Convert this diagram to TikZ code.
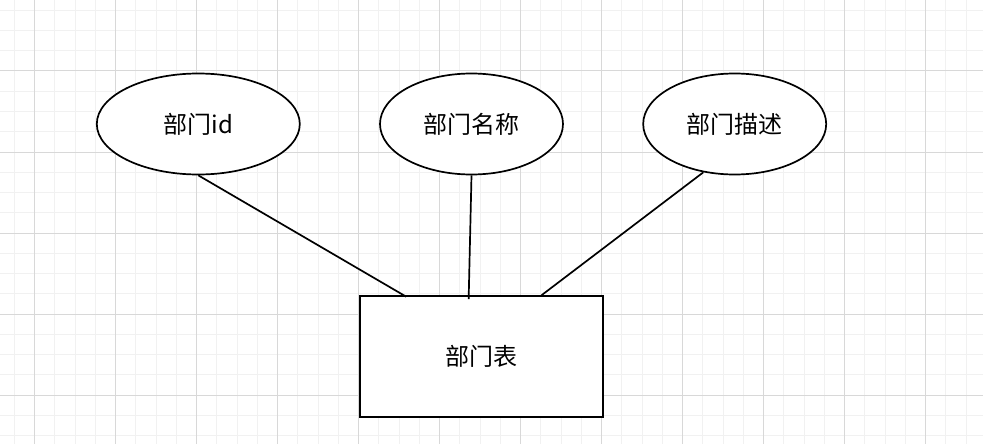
\documentclass[tikz,border=0pt]{standalone}
\usepackage{fontspec}
\setmainfont{Noto Sans CJK SC}
\usetikzlibrary{shapes.geometric}
\definecolor{gridminor}{RGB}{241,241,241}
\definecolor{gridmajor}{RGB}{216,216,216}
\tikzset{
  minorline/.style={draw=gridminor, line width=1pt},
  majorline/.style={draw=gridmajor, line width=1pt},
  attr/.style={ellipse, draw=black, line width=1.7pt, fill=white, inner sep=0pt,
    font=\fontsize{24}{28}\selectfont},
  entity/.style={rectangle, draw=black, line width=1.7pt, fill=white, inner sep=0pt,
    font=\fontsize{24}{28}\selectfont},
  link/.style={draw=black, line width=1.7pt}
}
\begin{document}
\begin{tikzpicture}[x=1pt,y=-1pt]
\useasboundingbox (0,0) rectangle (983,444);
\fill[white] (0,0) rectangle (983,444);
% grid
\foreach \i in {0,...,47} \draw[minorline] ({14.45+20.25*\i},0) -- ++(0,444);
\foreach \j in {0,...,21} \draw[minorline] (0,{10.25+20.25*\j}) -- ++(983,0);
\foreach \k in {0,...,11} \draw[majorline] ({34.7+81*\k},0) -- ++(0,444);
\foreach \k in {0,...,4} \draw[majorline] (0,{71+81*\k}) -- ++(983,0);
% nodes
\node[entity, minimum width=243pt, minimum height=121pt] (t) at (481.5,356.5) {部门表};
\node[attr, minimum width=203pt, minimum height=101pt] (a1) at (198.3,124) {部门id};
\node[attr, minimum width=183pt, minimum height=101pt] (a2) at (471.5,124) {部门名称};
\node[attr, minimum width=183pt, minimum height=101pt] (a3) at (734.7,124) {部门描述};
% links
\draw[link] (a1.south) -- ([xshift=47pt,yshift=-1.5pt]t.north west);
\draw[link] (a2.south) -- ([xshift=109.5pt,yshift=-4pt]t.north west);
\draw[link] (a3.237) -- ([xshift=182.5pt]t.north west);
\end{tikzpicture}
\end{document}
